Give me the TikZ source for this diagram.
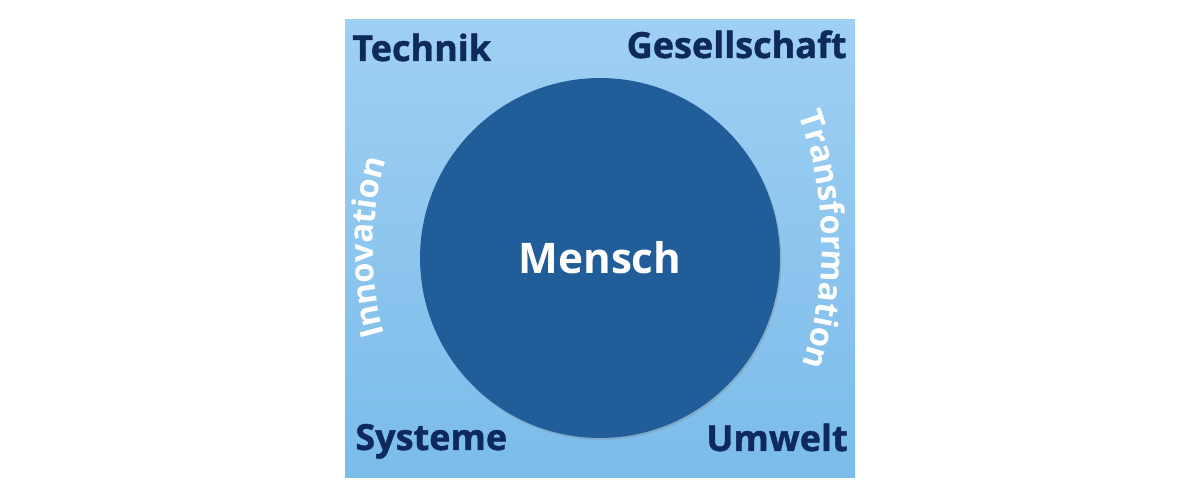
\documentclass[tikz,border=0pt]{standalone}
\usepackage{fontspec}
\setmainfont{Open Sans}
\newfontfamily\heavyfont{Open Sans}[BoldFeatures={FakeBold=1.2}]
\usepackage{tikz}
\usetikzlibrary{decorations.text,shadows}
\definecolor{skytop}{HTML}{9FCFF3}
\definecolor{skybottom}{HTML}{7BBCEA}
\definecolor{menschblue}{HTML}{215E99}
\definecolor{navy}{HTML}{0E2A5C}
\def\curvefont{\fontsize{18.5}{20}\selectfont\bfseries}
\tikzset{
	corner/.style={font=\heavyfont\fontsize{20.5}{24}\selectfont\bfseries, text=navy, inner sep=0pt},
	curved/.style={decorate, decoration={text along path, text align=center, text color=white, text={|\curvefont|#1}}}
}

\begin{document}
\begin{tikzpicture}[x=0.02cm, y=0.02cm]
		%%%%% START %%%%%
		\useasboundingbox (0, 0) rectangle (1200, 500);
		
		\shade[top color=skytop, bottom color=skybottom] (345, 22) rectangle (855, 480);
		
		\node[circle, fill=menschblue, minimum size=7.2cm, inner sep=0pt, text=white,
			font=\fontsize{24}{28}\selectfont\bfseries,
			drop shadow={shadow xshift=0.8pt, shadow yshift=-1.2pt, opacity=0.3}] (mensch) at (600, 242) {Mensch};
		
		\node[corner, anchor=base west] (technik) at (352, 439) {Technik};
		\node[corner, anchor=base east] (gesellschaft) at (847, 442) {Gesellschaft};
		\node[corner, anchor=base west] (systeme) at (355, 50) {Systeme};
		\node[corner, anchor=base east] (umwelt) at (848, 49) {Umwelt};
		
		\path[curved=Innovation] (681, 250) ++(197:308) arc[start angle=197, end angle=162, radius=308];
		\path[curved=Transformation] (443, 255) ++(21.7:379) arc[start angle=21.7, end angle=-20, radius=379];
		
		%%%%% END %%%%%
\end{tikzpicture}
\end{document}
